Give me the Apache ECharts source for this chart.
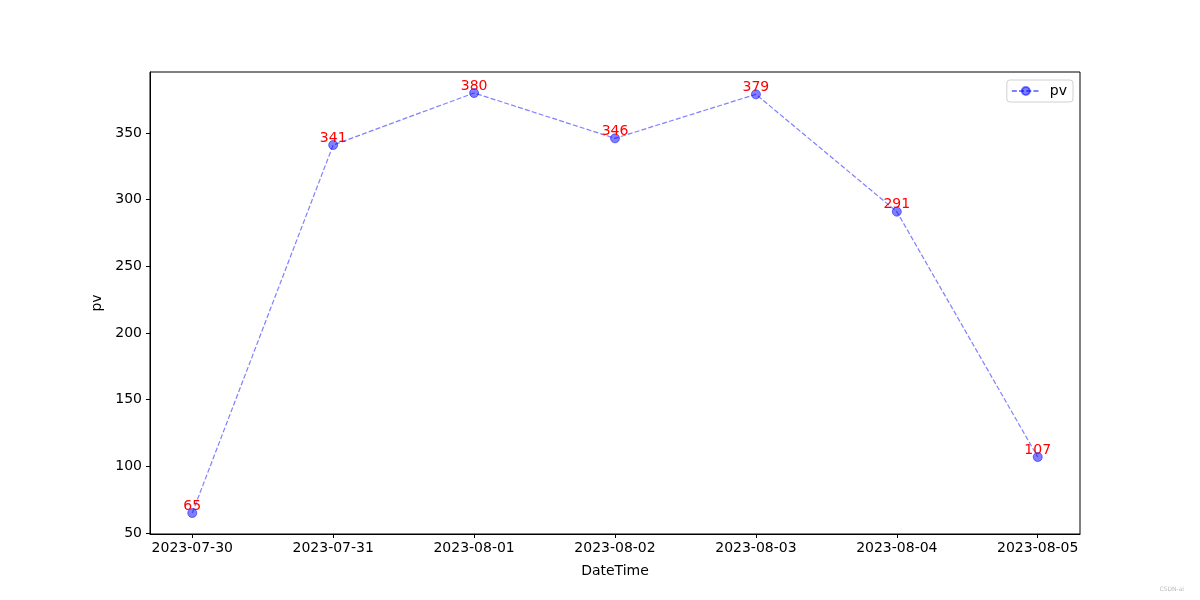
<!DOCTYPE html>
<html>
<head>
<meta charset="utf-8">
<script src="https://cdn.jsdelivr.net/npm/echarts@6/dist/echarts.min.js"></script>
<style>
  html, body { margin: 0; padding: 0; background: #fff; }
  #chart { width: 1200px; height: 600px; }
</style>
</head>
<body>
<div id="chart"></div>
<script>
const dates = ['2023-07-30', '2023-07-31', '2023-08-01', '2023-08-02', '2023-08-03', '2023-08-04', '2023-08-05'];
const pv = [65, 341, 380, 346, 379, 291, 107];
const yTicks = [50, 100, 150, 200, 250, 300, 350];

const font = 'DejaVu Sans';
const points = pv.map((v, i) => [i, v]);
const xTicks = dates.map((d, i) => i);

const chart = echarts.init(document.getElementById('chart'));
chart.setOption({
  backgroundColor: '#fff',
  animation: false,
  textStyle: { fontFamily: font },
  grid: {
    left: 150, right: 120, top: 72, bottom: 66,
    show: true, borderColor: '#000', borderWidth: 1,
    containLabel: false
  },
  legend: {
    right: 127, top: 80,
    orient: 'vertical',
    borderColor: '#d0d0d0', borderWidth: 1, borderRadius: 3,
    padding: [4, 6, 4, 4],
    itemWidth: 28, itemHeight: 10, itemGap: 6,
    textStyle: { fontFamily: font, fontSize: 14, color: '#000', padding: [0, 0, 0, 5] },
    data: ['pv']
  },
  xAxis: {
    type: 'value',
    min: -0.3, max: 6.3,
    name: 'DateTime',
    nameLocation: 'middle',
    nameGap: 30,
    nameTextStyle: { fontFamily: font, fontSize: 14, color: '#000' },
    axisLine: { show: true, onZero: false, lineStyle: { color: '#000', width: 1 } },
    axisTick: { show: true, customValues: xTicks, length: 4, inside: false, lineStyle: { color: '#000' } },
    axisLabel: {
      customValues: xTicks,
      formatter: v => dates[Math.round(v)] || '',
      fontFamily: font, fontSize: 14, color: '#000', margin: 7
    },
    splitLine: { show: false }
  },
  yAxis: {
    type: 'value',
    min: 49.25, max: 395.75,
    name: 'pv',
    nameLocation: 'middle',
    nameGap: 45,
    nameTextStyle: { fontFamily: font, fontSize: 14, color: '#000' },
    axisLine: { show: true, onZero: false, lineStyle: { color: '#000', width: 1 } },
    axisTick: { show: true, customValues: yTicks, length: 4, inside: false, lineStyle: { color: '#000' } },
    axisLabel: {
      customValues: yTicks,
      fontFamily: font, fontSize: 14, color: '#000', margin: 8
    },
    splitLine: { show: false }
  },
  series: [{
    name: 'pv',
    type: 'line',
    data: points,
    symbol: 'circle',
    symbolSize: 9,
    lineStyle: { color: 'rgba(0,0,255,0.5)', width: 1.2, type: [5, 2.2] },
    itemStyle: { color: 'rgba(0,0,255,0.5)', borderColor: 'rgba(0,0,255,0.5)', borderWidth: 1 },
    label: {
      show: true,
      position: 'top',
      distance: -5,
      color: '#ff0000',
      fontFamily: font,
      fontSize: 14
    },
    emphasis: { disabled: true }
  }],
  graphic: [{
    type: 'text',
    right: 16, bottom: 8,
    style: { text: 'CSDN-ai', fontSize: 6, fill: '#bbb', fontFamily: font }
  }]
});
</script>
</body>
</html>
